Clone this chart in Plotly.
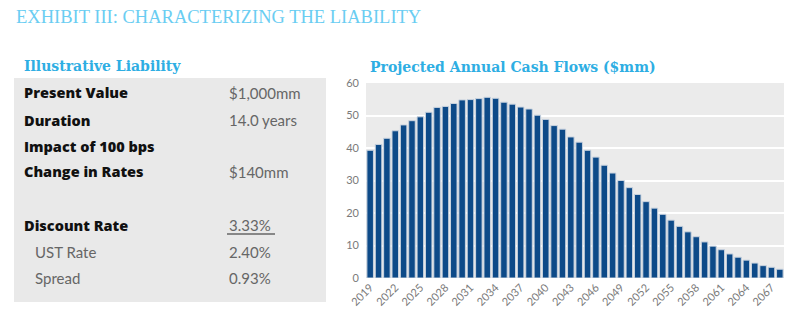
import plotly.graph_objects as go

W, H = 812, 321

years = list(range(2019, 2069))
cash_flows = [39.3, 41.1, 43.0, 45.3, 47.1, 48.4, 49.6, 51.0, 52.5, 52.8,
              53.7, 54.8, 54.9, 55.2, 55.6, 55.3, 54.1, 53.5, 52.6, 52.0,
              50.1, 48.8, 46.9, 45.8, 43.4, 41.8, 39.3, 37.2, 34.7, 32.3,
              30.0, 27.8, 25.7, 23.5, 21.5, 19.6, 17.8, 15.9, 14.2, 12.7,
              11.1, 9.8, 8.7, 7.4, 6.4, 5.5, 4.6, 3.8, 3.3, 2.7]
tick_years = list(range(2019, 2068, 3))
tick_labels = [str(y) for y in tick_years]

row_labels = ["Present Value", "Duration", "Impact of 100 bps", "Change in Rates",
              "Discount Rate", "UST Rate", "Spread"]
row_values = ["$1,000mm", "14.0 years", "", "$140mm", "3.33%", "2.40%", "0.93%"]
row_bold = [True, True, True, True, True, False, False]
row_y = [93, 120, 146, 172, 225, 252, 278]

title_text = "EXHIBIT III: CHARACTERIZING THE LIABILITY"
left_heading = "Illustrative Liability"
right_heading = "Projected Annual Cash Flows ($mm)"

def px(x):
    return x / W

def py(y):
    return 1 - y / H

fig = go.Figure()
fig.add_trace(go.Bar(
    x=years, y=cash_flows,
    marker=dict(color="#0d4a88", line=dict(color="#c9d3df", width=1)),
    width=0.78,
))

annotations = []
annotations.append(dict(text=title_text, x=px(14), y=py(17), xref="paper", yref="paper",
                        xanchor="left", yanchor="middle", showarrow=False,
                        font=dict(family="Liberation Serif", size=18.5, color="#6acdf2")))
annotations.append(dict(text="<b>" + left_heading + "</b>", x=px(22), y=py(66), xref="paper", yref="paper",
                        xanchor="left", yanchor="middle", showarrow=False,
                        font=dict(family="DejaVu Serif", size=14, color="#2eaee3")))
annotations.append(dict(text="<b>" + right_heading + "</b>", x=px(368), y=py(67), xref="paper", yref="paper",
                        xanchor="left", yanchor="middle", showarrow=False,
                        font=dict(family="DejaVu Serif", size=14, color="#2eaee3")))

for lab, val, bold, yy in zip(row_labels, row_values, row_bold, row_y):
    if bold:
        annotations.append(dict(text=lab, x=px(22), y=py(yy), xref="paper", yref="paper",
                                xanchor="left", yanchor="middle", showarrow=False,
                                font=dict(family="Open Sans", size=14.5, color="#111111", weight=800)))
    else:
        annotations.append(dict(text=lab, x=px(33), y=py(yy), xref="paper", yref="paper",
                                xanchor="left", yanchor="middle", showarrow=False,
                                font=dict(family="Lato", size=15, color="#666666")))
    if val:
        annotations.append(dict(text=val, x=px(227), y=py(yy), xref="paper", yref="paper",
                                xanchor="left", yanchor="middle", showarrow=False,
                                font=dict(family="Lato", size=15, color="#666666")))

shapes = [
    dict(type="rect", xref="paper", yref="paper", x0=px(14), x1=px(326), y0=py(302), y1=py(78),
         fillcolor="#e9e9e9", line=dict(width=0), layer="below"),
    dict(type="line", xref="paper", yref="paper", x0=px(227), x1=px(275), y0=py(234), y1=py(234),
         line=dict(color="#666666", width=1.5)),
]

fig.update_layout(
    width=W, height=H,
    margin=dict(l=0, r=0, t=0, b=0),
    paper_bgcolor="white",
    plot_bgcolor="#ebebeb",
    showlegend=False,
    bargap=0.2,
    annotations=annotations,
    shapes=shapes,
    xaxis=dict(domain=[px(366), px(784)], range=[2018.5, 2068.5],
               tickmode="array", tickvals=tick_years, ticktext=tick_labels,
               tickangle=-45, tickfont=dict(family="Lato", size=11, color="#7a7a7a"),
               showgrid=False, zeroline=False, showline=False, ticks="", automargin=False),
    yaxis=dict(domain=[py(278), py(83)], range=[0, 60], dtick=10,
               tickfont=dict(family="Lato", size=11, color="#7a7a7a"),
               gridcolor="#ffffff", gridwidth=2, zeroline=False, showline=False,
               ticks="", ticklabelstandoff=6, automargin=False),
)

fig.write_html("out.html")
